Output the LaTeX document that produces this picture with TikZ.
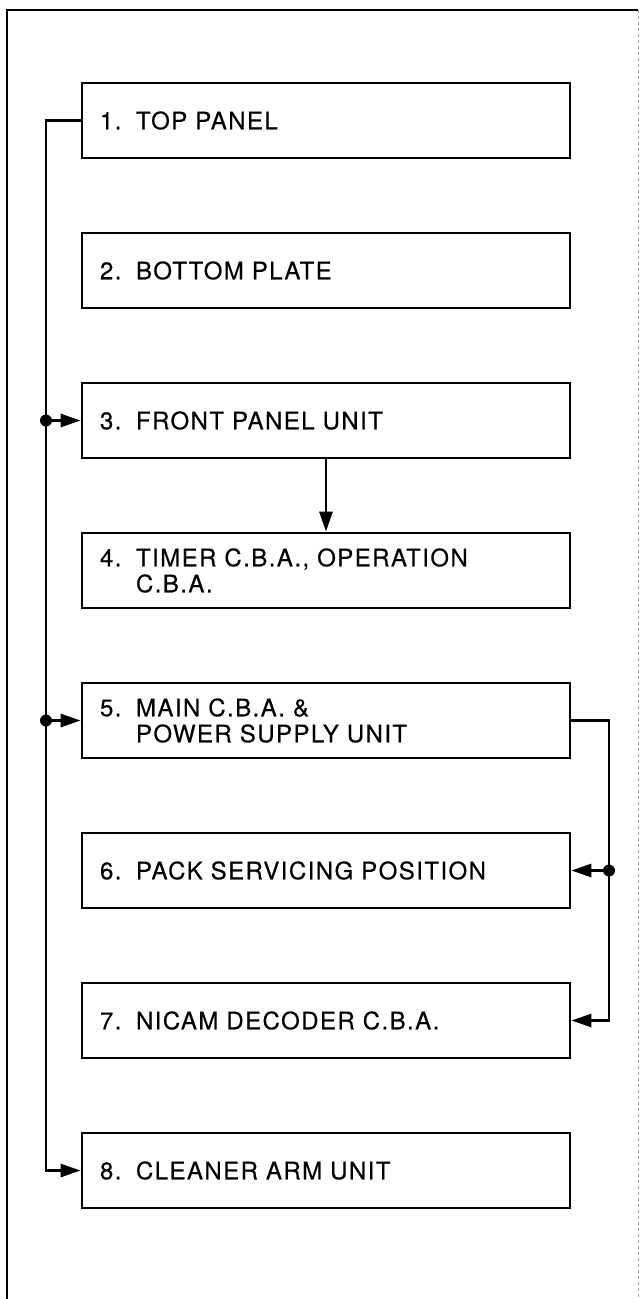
\documentclass[tikz,border=0pt]{standalone}
\usepackage{fontspec}
\setmainfont{TeX Gyre Heros}[LetterSpace=6,FakeBold=0.4]
\usetikzlibrary{arrows.meta}
\newcommand{\partno}[1]{\makebox[36pt][l]{#1}}
\newcommand{\panelfont}{\fontsize{24}{26}\selectfont\spaceskip 12pt plus 2pt\relax}
\begin{document}
\begin{tikzpicture}[x=1pt,y=-1pt,
        % common looks
        panel/.style={
            draw, line width=2.8pt,
            minimum width=488pt, minimum height=75pt,
            inner xsep=18pt, inner ysep=2pt, text width=452pt, align=left,
            font=\panelfont
        },
        wire/.style={line width=2.8pt},
        arr/.style={wire, -{Triangle[length=20pt,width=13pt]}},
        dot/.style={circle, fill, inner sep=0pt, minimum size=12pt}
    ]
        \useasboundingbox (0,0) rectangle (643,1299);

        % page frame
        \draw[line width=1.8pt] (7,1299) -- (7,10) -- (638,10);
        \draw[line width=0.5pt, gray!70, dashed] (638,10) -- (638,1299);

        % the panels, one every 150pt
        \node[panel] (top)     at (326,120.5)  {\partno{1.}TOP PANEL};
        \node[panel] (bottom)  at (326,270.5)  {\partno{2.}BOTTOM PLATE};
        \node[panel] (front)   at (326,420.5)  {\partno{3.}FRONT PANEL UNIT};
        \node[panel] (timer)   at (326,570.5)  {\partno{4.}TIMER C.B.A., OPERATION\\\partno{}C.B.A.};
        \node[panel] (mainpcb) at (326,720.5)  {\partno{5.}MAIN C.B.A. \&\\\partno{}POWER SUPPLY UNIT};
        \node[panel] (pack)    at (326,870.5)  {\partno{6.}PACK SERVICING POSITION};
        \node[panel] (nicam)   at (326,1020.5) {\partno{7.}NICAM DECODER C.B.A.};
        \node[panel] (cleaner) at (326,1170.5) {\partno{8.}CLEANER ARM UNIT};

        % left bus
        \coordinate (lbus) at (46,120.5);
        \draw[arr] (top.west) -- (lbus) |- (cleaner.west);
        \node[dot] (jfront) at (lbus |- front.west) {};
        \node[dot] (jmain)  at (lbus |- mainpcb.west) {};
        \draw[arr] (jfront) -- (front.west);
        \draw[arr] (jmain) -- (mainpcb.west);

        % front panel to timer
        \draw[arr] (front.south) -- (timer.north);

        % right bus
        \coordinate (rbus) at (609,720.5);
        \draw[arr] (mainpcb.east) -- (rbus) |- (nicam.east);
        \node[dot] (jpack) at (rbus |- pack.east) {};
        \draw[arr] (jpack) -- (pack.east);

    \end{tikzpicture}
\end{document}
